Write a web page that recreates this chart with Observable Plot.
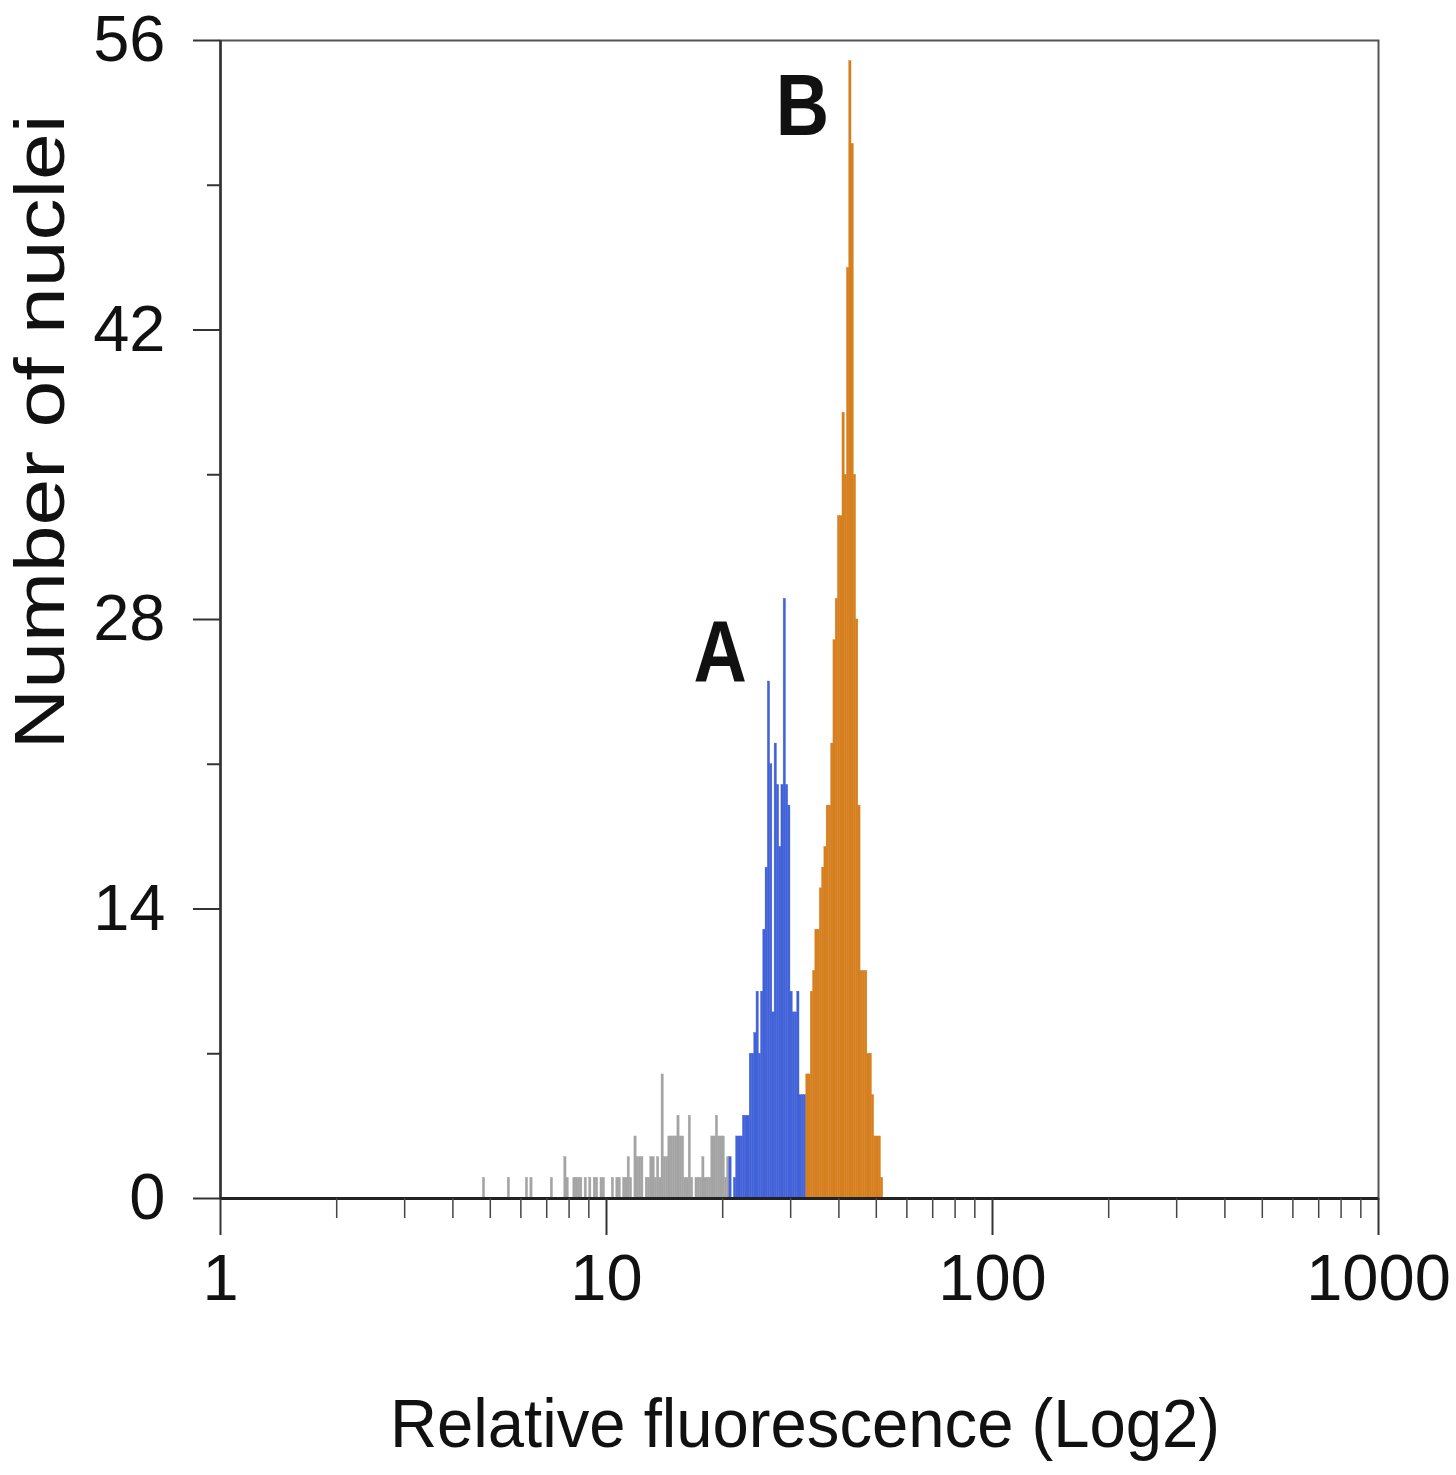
<!DOCTYPE html>
<html><head><meta charset="utf-8">
<script src="https://cdn.jsdelivr.net/npm/d3@7"></script>
<script src="https://cdn.jsdelivr.net/npm/@observablehq/plot@0.6"></script>
<style>body{margin:0;background:#fff} svg{display:block}</style>
</head><body><div id="chart"></div>
<script>
// Log-channel histogram: 512 channels spanning 3 decades (1 to 1000)
const channelsPerDecade = 512 / 3;

// Debris / background (gray), first channel 116
const grayStart = 116;
const grayCounts = [1, 0,0,0,0,0,0,0,0,0,0, 1, 0,0,0,0,0,0,0, 1,0,1, 0,0,0,0,0,0,0,0, 1, 0,0,0,0,0,
  2,1,0,0, 1,1,1,1,0,1,0,1,0,1,1,0,1,1, 0,0,0, 1,0,1,1,0,1,1,2,1,0, 3,2,2,2,0,
  1,1,2,2,1,2,1,6,2,2, 3,3,3,3,4,3,3, 1,1,4,1,0,1,1,1,2,1,1,1, 3,3,4,3,3,3,1,2];

// Peak A (blue), first channel 225
const blueStart = 225;
const blueCounts = [2,0,1,3,3,3,4,4,4,7,7,8,10,7,10,13,16,25,21,9,22,20,17,20,29,20,19,10,9,9,10,5,5,5];

// Peak B (orange), first channel 259
const orangeStart = 259;
const orangeCounts = [6,6,10,11,13,13,15,16,17,19,19,22,27,29,33,33,38,35,45,55,51,35,28,19,11,11,11,7,7,5,3,3,3,1];

const groups = ["debris", "A", "B"];
const groupColors = ["#a4a4a4", "#4262d8", "#d67f1f"];

const yTicks = [0, 14, 28, 42, 56];
const yMinorTicks = [7, 21, 35, 49];
const xTicks = [1, 10, 100, 1000];
const xMinorTicks = [2,3,4,5,6,7,8,9,20,30,40,50,60,70,80,90,200,300,400,500,600,700,800,900];

const peakNames = ["A", "B"];
const peakNameX = [19.7, 32.2];
const peakNameY = [26.4, 52.8];

const xLabel = "Relative fluorescence (Log2)";
const yLabel = "Number of nuclei";

function toBins(start, counts, group) {
  return counts.map((c, i) => ({
    x1: Math.pow(10, (start + i) / channelsPerDecade),
    x2: Math.pow(10, (start + i + 1) / channelsPerDecade),
    count: c,
    group
  }));
}
const bins = [
  ...toBins(grayStart, grayCounts, "debris"),
  ...toBins(blueStart, blueCounts, "A"),
  ...toBins(orangeStart, orangeCounts, "B")
].filter(d => d.count > 0);

const peaks = peakNames.map((t, i) => ({text: t, x: peakNameX[i], y: peakNameY[i]}));

const chart = Plot.plot({
  width: 1456,
  height: 1475,
  marginLeft: 220,
  marginRight: 78,
  marginTop: 40,
  marginBottom: 277,
  style: {fontFamily: "'Liberation Sans', Arial, sans-serif", background: "#fff", color: "#111"},
  x: {type: "log", domain: [1, 1000]},
  y: {domain: [0, 56]},
  color: {domain: groups, range: groupColors},
  marks: [
    Plot.rectY(bins, {x1: "x1", x2: "x2", y: "count", fill: "group", stroke: "group", strokeWidth: 0.4}),
    Plot.frame({stroke: "#555", strokeWidth: 2}),
    Plot.ruleX([1], {stroke: "#333", strokeWidth: 2.5}),
    Plot.ruleY([0], {stroke: "#222", strokeWidth: 3}),
    Plot.axisY(yTicks, {tickSize: 27, tickPadding: 28, fontSize: 65, label: null, strokeWidth: 2, stroke: "#333", fill: "#111"}),
    Plot.axisY(yMinorTicks, {tickSize: 13, tickFormat: () => "", label: null, strokeWidth: 2, stroke: "#333"}),
    Plot.axisX(xTicks, {tickSize: 37, tickPadding: 18, fontSize: 65, label: null, strokeWidth: 2, stroke: "#333", fill: "#111", tickFormat: d => String(d)}),
    Plot.axisX(xMinorTicks, {tickSize: 20, tickFormat: () => "", label: null, strokeWidth: 1.5, stroke: "#444"}),
    Plot.text(peaks, {x: "x", y: "y", text: "text", fontSize: 88, fontWeight: "bold", fill: "#111", lineAnchor: "middle", className: "peak-name"})
  ]
});

const svg = d3.select(chart);
// narrow the bold peak letters slightly, as in the reference
svg.selectAll(".peak-name text").attr("transform", function() {
  return (this.getAttribute("transform") || "") + " scale(0.84,1)";
});
svg.append("text")
  .attr("transform", "translate(64,432) rotate(-90)")
  .attr("text-anchor", "middle")
  .attr("font-size", 70)
  .attr("fill", "#111")
  .attr("textLength", 635)
  .attr("lengthAdjust", "spacingAndGlyphs")
  .text(yLabel);
svg.append("text")
  .attr("x", 805)
  .attr("y", 1447)
  .attr("text-anchor", "middle")
  .attr("font-size", 68)
  .attr("fill", "#111")
  .attr("textLength", 830)
  .attr("lengthAdjust", "spacingAndGlyphs")
  .text(xLabel);

document.getElementById("chart").appendChild(chart);
</script>
</body></html>
